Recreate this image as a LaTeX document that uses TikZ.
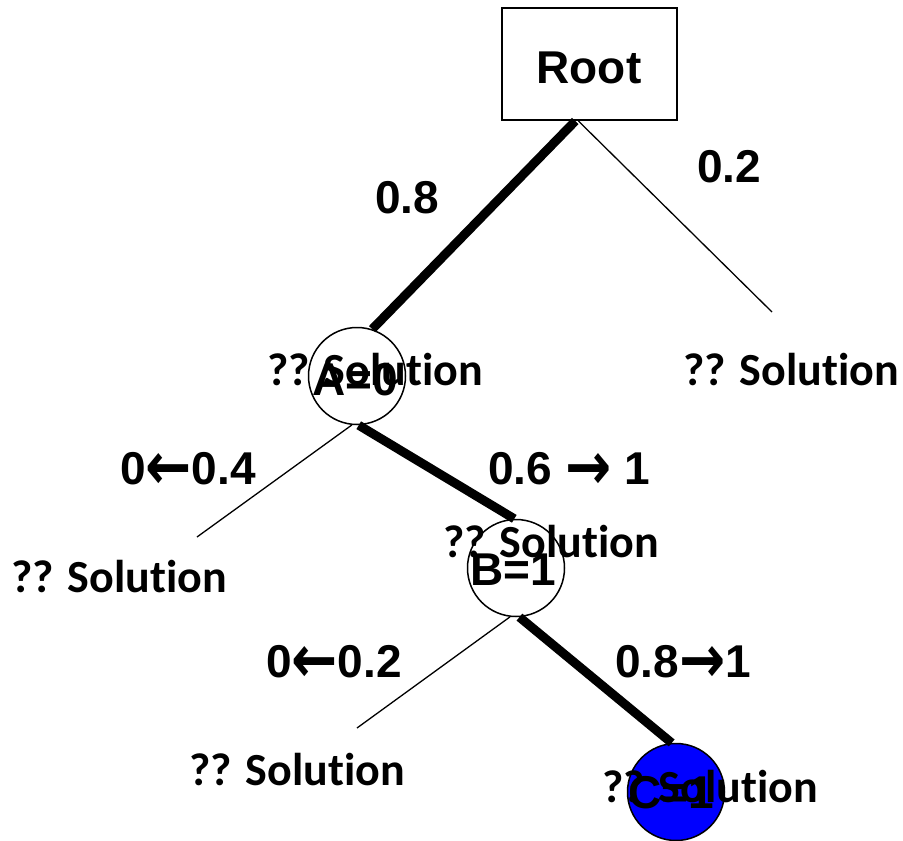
\documentclass[tikz,border=0pt]{standalone}
\usepackage{graphicx}
\usepackage{fontspec}
\setmainfont{Liberation Sans}
\newfontfamily\solfont{Carlito}[Ligatures=NoCommon]
\newfontfamily\arrfont{DejaVu Sans}
\newcommand\ltarrow{{\arrfont\fontsize{46}{50}\selectfont\raisebox{-5pt}{\scalebox{1.2}[1.45]{←}}}}
\newcommand\rtarrow{{\arrfont\fontsize{46}{50}\selectfont\raisebox{-5pt}{\scalebox{1.2}[1.45]{→}}}}
\begin{document}
\begin{tikzpicture}[x=1pt,y=-1pt,
  lab/.style={font=\fontsize{46}{50}\selectfont\bfseries, inner sep=0pt, anchor=base},
  sol/.style={font=\fontsize{46}{50}\selectfont\solfont\bfseries, inner sep=0pt, anchor=base},
  state/.style={circle, draw, line width=1.5pt, minimum size=97pt, inner sep=0pt},
  heavy/.style={line width=9pt},
  light/.style={line width=1.3pt}]
\useasboundingbox (0,0) rectangle (903,841);

% tree nodes
\node[draw, line width=2pt, minimum width=175pt, minimum height=112pt, inner sep=0pt]
  (root) at (589.5,64) {};
\node[state] (A) at (357,376) {};
\node[state] (B) at (516,568) {};
\node[state, fill=blue] (C) at (676,792) {};

% free ends of the unexplored branches
\coordinate (rr) at (772,312);
\coordinate (al) at (197,537);
\coordinate (bl) at (357,728);

% branches
\draw[heavy] (root.-104.5) -- (A.72);
\draw[light] (root.-101) -- (rr);
\draw[heavy] (A.-88) -- (B.92);
\draw[light] (A.-96) -- (al);
\draw[heavy] (B.-86) -- (C.95);
\draw[light] (B.-97) -- (bl);

% node captions
\node[lab] (troot) at (589,83) {Root};
\node[lab] (tA) at (355,395) {A=0};
\node[lab] (tB) at (513,585) {B=1};
\node[lab] (tC) at (671,808) {C=1};

% branch probabilities
\node[lab] (p1) at (407,213) {0.8};
\node[lab] (p2) at (729,182) {0.2};
\node[lab] (p3) at (188,484) {0\ltarrow0.4};
\node[lab] (p4) at (569,484) {0.6 \rtarrow\ 1};
\node[lab] (p5) at (334,677) {0\ltarrow0.2};
\node[lab] (p6) at (683,677) {0.8\rtarrow1};

% solution placeholders
\node[sol] (s1) at (375,385) {?? Solution};
\node[sol] (s2) at (791,385) {?? Solution};
\node[sol] (s3) at (119,592) {?? Solution};
\node[sol] (s4) at (551,557) {?? Solution};
\node[sol] (s5) at (297,785) {?? Solution};
\node[sol] (s6) at (710,802) {?? Solution};
\end{tikzpicture}
\end{document}
